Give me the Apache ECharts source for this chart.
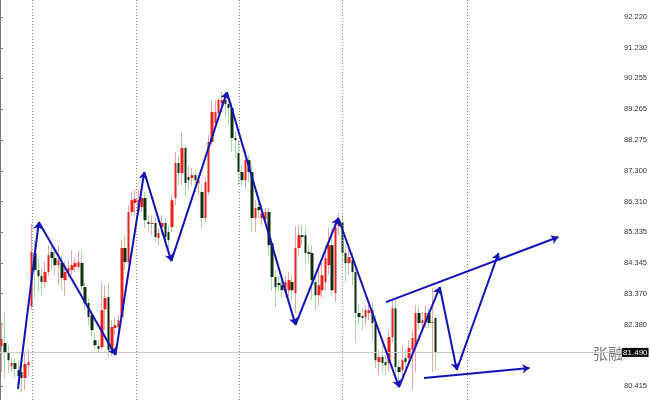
<!DOCTYPE html>
<html><head><meta charset="utf-8">
<script src="https://cdn.jsdelivr.net/npm/echarts@6/dist/echarts.min.js"></script>
<style>html,body{margin:0;padding:0;background:#fff}#c{width:650px;height:400px}</style>
</head><body><div id="c"></div>
<script>
// ---- candle data (price) ----
const opens  = [81.69,81.79,81.47,81.05,81.15,80.92,80.86,80.67,81.08,82.97,
                84.67,84.12,83.93,83.74,84.06,84.70,84.51,84.28,84.35,83.80,
                84.06,84.12,84.22,84.22,84.35,83.58,83.07,82.68,81.88,81.69,
                81.66,82.87,83.26,81.56,82.27,82.30,82.62,84.83,84.38,85.98,
                86.27,85.98,86.14,86.43,85.66,85.60,85.63,85.15,85.50,85.63,
                85.34,85.50,86.43,87.55,87.23,88.03,87.10,87.07,87.16,86.91,
                86.62,85.79,86.62,88.22,88.83,89.15,89.47,89.56,89.44,89.31,
                88.35,87.87,87.26,87.00,87.64,87.26,85.79,86.14,85.79,85.76,
                85.98,84.99,83.90,83.71,83.64,83.42,83.48,83.74,83.39,84.83,
                85.24,85.24,84.70,84.67,83.74,83.32,83.48,83.74,84.28,84.92,
                83.39,85.53,85.66,84.67,84.35,84.44,84.06,82.75,82.65,82.62,
                82.75,82.84,82.43,81.18,81.34,81.18,81.15,81.98,82.90,81.02,
                80.92,81.31,81.31,81.56,81.66,82.75,82.43,82.46,82.75,82.43,
                82.59];
const closes = [81.92,81.50,81.24,81.15,80.96,80.73,80.67,81.12,81.18,84.70,
                84.12,83.93,83.74,84.06,84.60,84.51,84.28,84.44,83.87,84.06,
                84.19,84.28,84.35,84.38,83.61,83.07,82.62,82.20,81.72,81.60,
                82.84,83.23,81.56,82.30,82.36,82.52,84.83,84.38,85.98,86.36,
                86.40,86.36,86.43,85.72,85.60,85.63,85.18,85.31,85.63,85.18,
                85.08,86.36,87.55,87.23,88.03,86.91,87.00,87.16,87.00,87.00,
                85.79,86.94,88.22,89.18,89.18,89.56,89.56,89.44,89.31,88.35,
                88.28,87.26,87.00,87.64,87.26,85.79,86.11,86.04,85.95,85.98,
                84.92,83.90,83.58,83.64,83.48,83.74,83.80,83.48,84.83,85.24,
                85.18,84.67,84.64,83.80,83.32,83.64,83.96,84.51,84.92,83.48,
                85.50,85.72,84.67,84.35,84.54,84.06,82.75,82.62,82.59,82.84,
                82.84,82.43,81.24,81.34,81.15,81.08,81.98,82.90,81.02,80.86,
                81.24,81.18,81.63,81.95,82.75,82.43,82.52,82.75,82.43,82.46,
                81.49];
const highs  = [82.46,82.78,81.72,81.31,81.31,81.24,81.08,81.50,81.56,85.60,
                85.08,84.51,84.19,84.38,84.92,84.92,84.76,84.92,84.60,84.38,
                84.44,84.76,84.51,84.76,84.76,83.71,83.23,82.84,82.10,81.88,
                83.74,83.64,83.71,82.52,82.58,82.68,85.08,85.24,86.20,86.62,
                86.68,86.68,86.75,86.62,85.88,85.88,85.79,85.47,85.88,85.79,
                85.56,86.52,87.90,87.80,88.54,88.12,87.48,87.39,87.32,87.16,
                86.84,87.07,88.44,89.56,89.56,89.63,89.82,89.76,89.72,89.50,
                88.54,88.28,87.48,87.96,87.80,87.48,86.36,86.36,86.20,86.11,
                86.11,85.15,84.12,83.96,83.80,83.93,84.06,83.96,85.53,85.56,
                85.56,85.53,84.92,84.92,83.96,84.12,84.38,84.92,85.47,85.47,
                85.72,85.95,85.88,84.92,84.76,84.70,84.28,83.00,82.90,83.00,
                83.00,83.10,82.68,81.56,81.72,81.40,82.20,83.16,83.16,81.24,
                81.72,81.56,81.88,82.20,83.00,82.94,82.78,83.00,82.90,83.55,
                82.68];
const lows   = [80.86,80.67,80.83,80.86,80.67,80.44,80.22,80.28,80.76,82.84,
                83.23,83.48,83.32,83.55,83.93,84.12,83.96,83.64,83.48,83.32,
                83.87,83.96,84.06,84.12,83.48,82.84,82.36,81.98,81.56,81.50,
                81.56,82.20,81.34,81.37,82.04,82.10,82.52,84.12,84.28,85.88,
                85.88,85.88,85.98,85.47,85.34,85.24,85.02,84.92,85.24,84.86,
                84.76,85.34,86.20,86.84,86.84,86.52,86.68,86.84,86.62,86.52,
                85.47,85.66,86.52,88.12,88.67,88.92,89.18,89.00,88.76,87.90,
                87.71,86.84,86.84,86.75,86.94,85.34,85.34,85.79,85.56,85.56,
                84.60,83.48,82.94,83.42,83.23,83.23,83.29,83.16,82.75,84.60,
                84.92,84.28,84.38,83.16,82.84,83.00,83.23,83.48,83.96,83.32,
                83.10,85.24,84.38,83.74,83.96,83.64,81.82,82.36,82.20,82.36,
                82.52,81.88,80.99,80.76,80.86,80.76,80.86,81.82,80.76,80.35,
                80.60,80.99,81.08,80.28,80.86,82.20,82.27,82.27,82.27,80.86,
                80.92];
const lastPrice = 81.49;

// ---- axis ticks (right price scale) ----
const yTicks = [92.220, 91.230, 90.255, 89.265, 88.275, 87.300, 86.310,
                85.335, 84.345, 83.370, 82.380, 80.415];

// ---- drawn annotations (x in bar units, y in price) ----
const zigX = [5.37, 11.62, 34.58, 43.2, 51.3, 67.96, 88.5, 101.3, 119.5, 131.7, 136.8, 149.3];
const zigY = [80.32, 85.66, 81.41, 87.26, 84.41, 89.82, 82.37, 85.79, 80.38, 83.58, 80.93, 84.67];
const upperX = [115.6, 167.2];
const upperY = [83.10, 85.18];
const lowerX = [127.0, 158.6];
const lowerY = [80.67, 80.99];
const separators = [9.6, 40.9, 71.6, 102.6, 139.9];
const watermark = '张融';

const slotCount = 186;
const categories = Array.from({length: slotCount}, (_, i) => String(i + 1));

const wickData = opens.map((o, i) => [o, closes[i], lows[i], highs[i]]);
const bodyData = opens.map((o, i) => [o, closes[i], Math.min(o, closes[i]), Math.max(o, closes[i])]);

const zigLines = [];
for (let k = 0; k < zigX.length - 1; k++) {
  zigLines.push([{coord: [zigX[k], zigY[k]]}, {coord: [zigX[k + 1], zigY[k + 1]]}]);
}
const trendLines = [
  [{coord: [upperX[0], upperY[0]]}, {coord: [upperX[1], upperY[1]]}],
  [{coord: [lowerX[0], lowerY[0]]}, {coord: [lowerX[1], lowerY[1]]}]
];

const BLUE = '#1212b8';
const chart = echarts.init(document.getElementById('c'), null, {renderer: 'canvas'});
chart.setOption({
  animation: false,
  backgroundColor: '#ffffff',
  grid: {left: 0, right: 26, top: 0, bottom: 0, containLabel: false},
  xAxis: [
    {type: 'category', data: categories, boundaryGap: true, show: false},
    {type: 'value', min: 0, max: slotCount, show: false}
  ],
  yAxis: {
    type: 'value', position: 'right', min: 79.967, max: 92.764,
    splitLine: {show: false},
    axisLine: {show: true, lineStyle: {color: '#7a7a7a', width: 1}},
    axisTick: {show: true, length: 3, customValues: yTicks, lineStyle: {color: '#7a7a7a'}},
    axisLabel: {customValues: yTicks, formatter: v => v.toFixed(3), fontSize: 7.5,
      color: '#333', margin: 3, fontFamily: 'Liberation Sans'}
  },
  graphic: [{
    type: 'text', left: 593, top: 346, z: 0,
    style: {text: watermark, fontSize: 15, fill: '#7a7a7a', fontFamily: 'Noto Sans CJK SC'}
  }],
  series: [
    { // period separators
      type: 'line', xAxisIndex: 1, yAxisIndex: 0, data: [], z: 1, silent: true,
      markLine: {silent: true, symbol: ['none', 'none'], label: {show: false},
        lineStyle: {color: '#8c8c8c', type: [1, 2], width: 1},
        data: separators.map(v => ({xAxis: v}))}
    },
    { // current price line
      type: 'line', xAxisIndex: 1, yAxisIndex: 0, data: [], z: 2, silent: true,
      markLine: {silent: true, symbol: ['none', 'none'],
        lineStyle: {color: '#c8c8c8', type: 'solid', width: 1},
        label: {show: true, position: 'end', distance: 1, formatter: lastPrice.toFixed(3),
          color: '#fff', backgroundColor: '#000', padding: [1, 1, 0, 1], fontSize: 8,
          fontFamily: 'Liberation Sans'},
        data: [{yAxis: lastPrice}]}
    },
    { // wicks
      type: 'candlestick', xAxisIndex: 0, yAxisIndex: 0, data: wickData, barWidth: 1, z: 3, silent: true,
      itemStyle: {color: '#e9a6a6', color0: '#a9d9a2', borderColor: '#e9a6a6', borderColor0: '#a9d9a2', borderWidth: 1}
    },
    { // bodies
      type: 'candlestick', xAxisIndex: 0, yAxisIndex: 0, data: bodyData, barWidth: 3, z: 4, silent: true,
      itemStyle: {color: '#e8201c', color0: '#0d2e0f', borderColor: '#e8201c', borderColor0: '#0d2e0f', borderWidth: 0}
    },
    { // zigzag
      type: 'line', xAxisIndex: 1, yAxisIndex: 0, data: [], z: 6, silent: true,
      markLine: {silent: true, symbol: ['none', 'arrow'], symbolSize: 7, label: {show: false},
        lineStyle: {color: BLUE, type: 'solid', width: 2}, data: zigLines}
    },
    { // trend lines
      type: 'line', xAxisIndex: 1, yAxisIndex: 0, data: [], z: 6, silent: true,
      markLine: {silent: true, symbol: ['none', 'arrow'], symbolSize: 7, label: {show: false},
        lineStyle: {color: BLUE, type: 'solid', width: 2}, data: trendLines}
    }
  ]
});
</script></body></html>
